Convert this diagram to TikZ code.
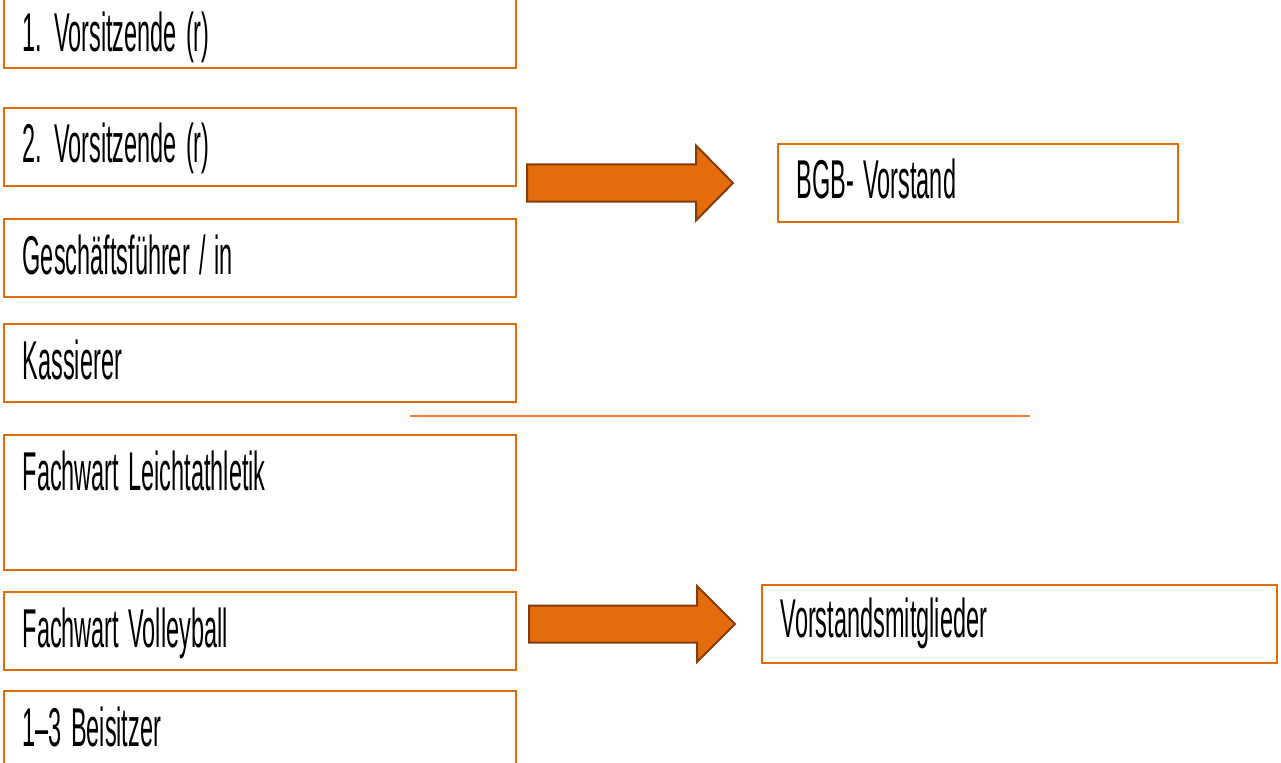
\documentclass[tikz,border=0pt]{standalone}
\usepackage{graphicx}
\usepackage{fontspec}
\setmainfont{Liberation Sans}
\usepackage{tikz}
\usetikzlibrary{positioning,calc}
\definecolor{boxorange}{HTML}{E46C0A}
\definecolor{lineorange}{HTML}{ED7D31}
\definecolor{arrowbrown}{HTML}{843C0C}
\newcommand{\narrow}[1]{\scalebox{0.43}[1]{\spaceskip=16pt\relax #1}}
\tikzset{
  office/.style={draw=boxorange,line width=1.5pt,fill=white,outer sep=0pt,
    inner xsep=14pt,inner ysep=0pt,align=left,
    text height=41.25pt,text depth=17.25pt,
    font=\fontsize{41}{49}\selectfont},
  leftbox/.style={office,text width=356pt,anchor=north west},
  blockarrow/.style={draw=arrowbrown,line width=1.5pt,fill=boxorange,line join=miter}
}

\begin{document}
\begin{tikzpicture}[x=0.75pt,y=-0.75pt]
	\useasboundingbox (0,0) rectangle (1281,763);

	\node(v1) [leftbox,text height=46.5pt,text depth=12pt] at (4,-10) {\narrow{1. Vorsitzende (r)}};
	\node(v2) [leftbox,below=30pt of v1] {\narrow{2. Vorsitzende (r)}};
	\node(gf) [leftbox,below=24.75pt of v2] {\narrow{Geschäftsführer / in}};
	\node(ka) [leftbox,below=20.25pt of gf] {\narrow{Kassierer}};
	\node(fl) [leftbox,below=24.75pt of ka,text depth=60pt] {\narrow{Fachwart Leichtathletik}};
	\node(fv) [leftbox,below=16.5pt of fl] {\narrow{Fachwart Volleyball}};
	\node(bs) [leftbox,below=15.75pt of fv] {\narrow{1--3 Beisitzer}};

	\node(bgb) [office,text width=272pt,anchor=north west] at (778,144) {\narrow{BGB- Vorstand}};
	\node(vm) [office,text width=358pt,anchor=north west,text height=39pt,text depth=19.5pt] at (762,585) {\narrow{Vorstandsmitglieder}};

	% arrows towards the two groups
	\coordinate (a1) at ($(v2.east |- bgb.west)+(8.25pt,0)$);
	\coordinate (a2) at ($(fv.east |- vm.west)+(9.75pt,0)$);
	\draw[blockarrow] (a1) ++(0,-18.5) -- ++(169,0) -- ++(0,-19) -- ++(37,37.5) -- ++(-37,37.5) -- ++(0,-19) -- ++(-169,0) -- cycle;
	\draw[blockarrow] (a2) ++(0,-18.5) -- ++(168,0) -- ++(0,-19.5) -- ++(38,38) -- ++(-38,38) -- ++(0,-19.5) -- ++(-168,0) -- cycle;

	% separator
	\coordinate (s1) at (410,416);
	\coordinate (s2) at (1030,416);
	\draw[lineorange,line width=1.2pt] (s1) -- (s2);
\end{tikzpicture}
\end{document}
